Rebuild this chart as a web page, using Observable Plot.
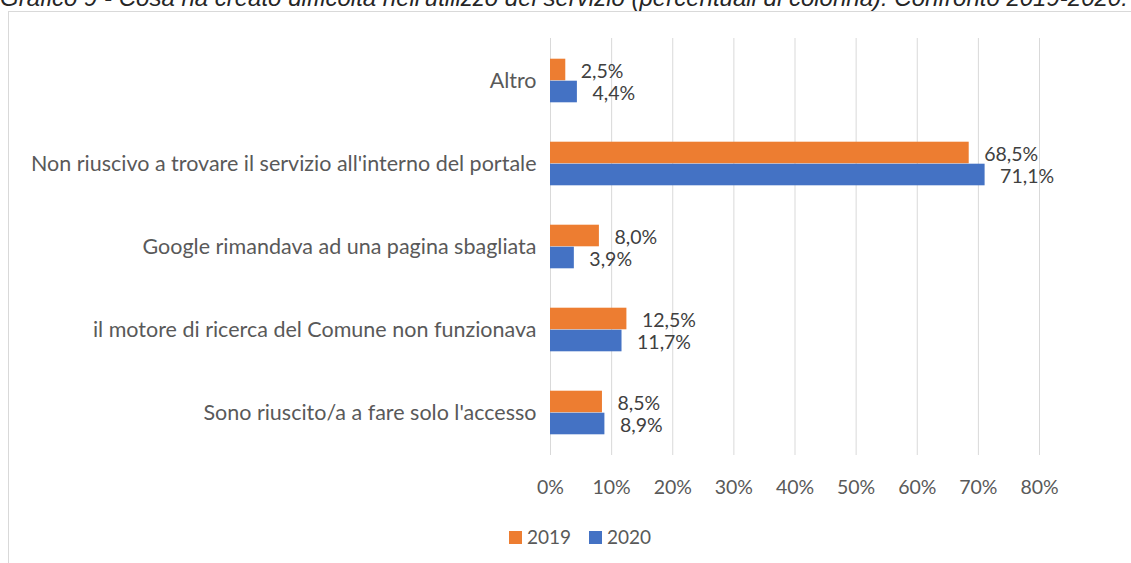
<!DOCTYPE html>
<html>
<head>
<meta charset="utf-8">
<script src="https://cdn.jsdelivr.net/npm/d3@7"></script>
<script src="https://cdn.jsdelivr.net/npm/@observablehq/plot@0.6"></script>
<style>
  html, body { margin: 0; padding: 0; background: #fff; overflow: hidden; }
  body { width: 1131px; height: 563px; position: relative; }
  #title { position: absolute; left: 0; top: -14px; white-space: nowrap; line-height: 1;
    font-family: "Liberation Sans", Arial, sans-serif; font-style: italic; font-size: 24px; color: #262626; }
  #frame { position: absolute; left: 8px; top: 11px; width: 1200px; height: 700px; border: 1px solid #d9d9d9; }
  #chart { position: absolute; left: 0; top: 0; }
  #legend { position: absolute; left: 0; top: 525px; width: 1160px; display: flex; justify-content: center; gap: 18px;
    font-family: Lato, sans-serif; font-size: 19px; color: #595959; line-height: 24px; }
  #legend .item { display: flex; align-items: center; gap: 5px; }
  #legend .sw { width: 13px; height: 13px; display: inline-block; }
  #chart svg g[aria-label="y-axis tick label"] text { font-size: 21.5px; }
</style>
</head>
<body>
<div id="title">Grafico 9 - Cosa ha creato difficoltà nell'utilizzo del servizio (percentuali di colonna). Confronto 2019-2020.</div>
<div id="frame"></div>
<div id="chart"></div>
<div id="legend"></div>
<script>
const categories = [
  "Altro",
  "Non riuscivo a trovare il servizio all'interno del portale",
  "Google rimandava ad una pagina sbagliata",
  "il motore di ricerca del Comune non funzionava",
  "Sono riuscito/a a fare solo l'accesso"
];
const years = ["2019", "2020"];
const values2019 = [2.5, 68.5, 8.0, 12.5, 8.5];
const values2020 = [4.4, 71.1, 3.9, 11.7, 8.9];
const xTicks = [0, 10, 20, 30, 40, 50, 60, 70, 80];
const colors = ["#ED7D31", "#4472C4"];

const d2019 = categories.map((c, i) => ({category: c, year: "2019", value: values2019[i]}));
const d2020 = categories.map((c, i) => ({category: c, year: "2020", value: values2020[i]}));
const fmt = d => d.value.toFixed(1).replace(".", ",") + "%";

const height = 500, marginTop = 38, marginBottom = 45;
const band = (height - marginTop - marginBottom) / categories.length;
const barH = 22;

const chart = Plot.plot({
  width: 1131,
  height,
  marginLeft: 550,
  marginRight: 92,
  marginTop,
  marginBottom,
  style: {fontFamily: "Lato, sans-serif", fontSize: "19.5px", color: "#595959", background: "transparent"},
  x: {domain: [0, 80], ticks: xTicks, tickFormat: d => d + "%", tickSize: 0, tickPadding: 25, label: null},
  y: {domain: categories, padding: 0, tickSize: 0, tickPadding: 14, label: null},
  color: {domain: years, range: colors},
  marks: [
    Plot.gridX(xTicks, {stroke: "#d9d9d9", strokeOpacity: 1, strokeWidth: 1}),
    Plot.barX(d2019, {y: "category", x: "value", fill: "year",
      insetTop: band / 2 - barH, insetBottom: band / 2}),
    Plot.barX(d2020, {y: "category", x: "value", fill: "year",
      insetTop: band / 2, insetBottom: band / 2 - barH}),
    Plot.text(d2019, {y: "category", x: "value", text: fmt, textAnchor: "start",
      dx: 15, dy: -barH / 2 + 2, fill: "#404040", fontSize: 19.5}),
    Plot.text(d2020, {y: "category", x: "value", text: fmt, textAnchor: "start",
      dx: 15, dy: barH / 2 + 2, fill: "#404040", fontSize: 19.5})
  ]
});
document.getElementById("chart").appendChild(chart);

const legend = document.getElementById("legend");
years.forEach((y, i) => {
  const item = document.createElement("div");
  item.className = "item";
  const sw = document.createElement("span");
  sw.className = "sw";
  sw.style.background = colors[i];
  const t = document.createElement("span");
  t.textContent = y;
  item.appendChild(sw);
  item.appendChild(t);
  legend.appendChild(item);
});
</script>
</body>
</html>
